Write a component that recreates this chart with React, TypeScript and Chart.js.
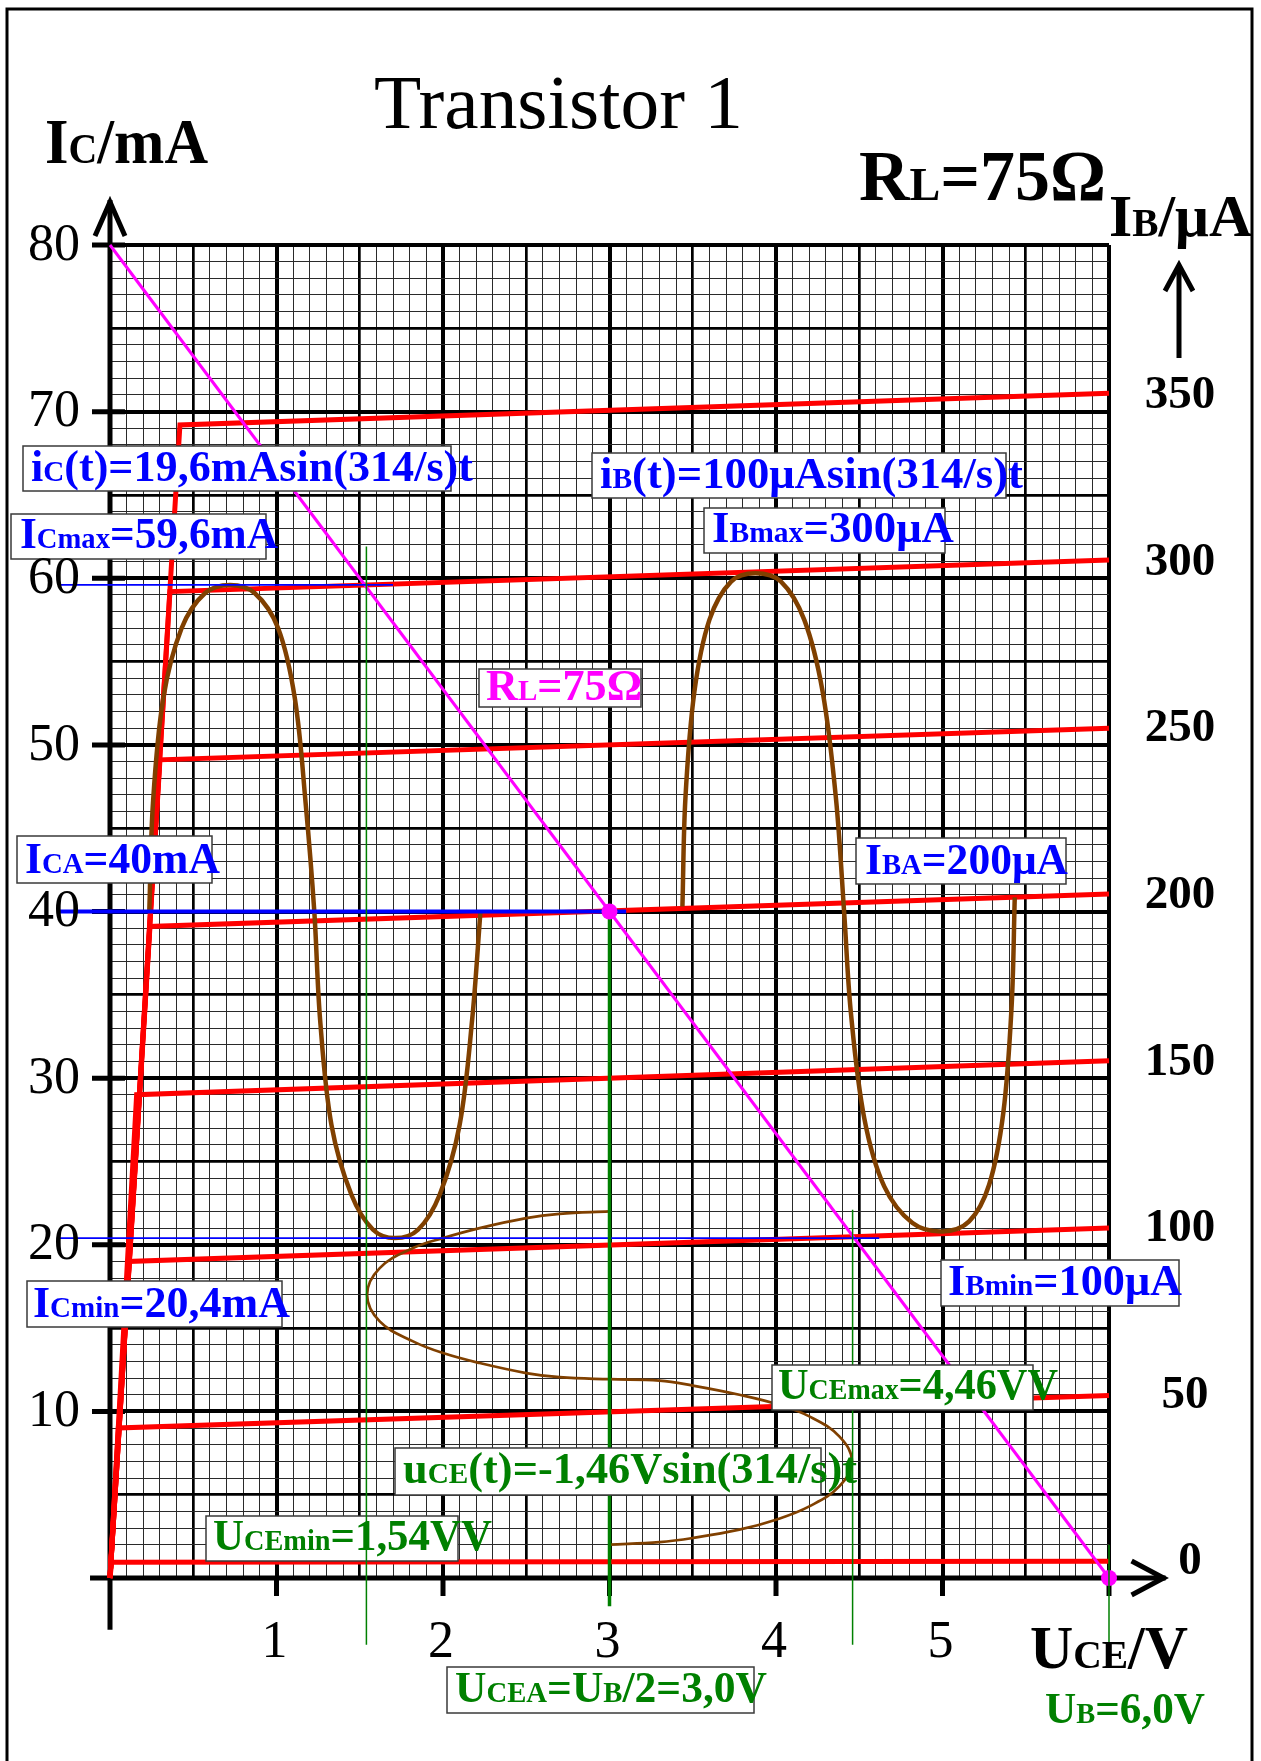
import React, { useEffect, useRef } from "react";
import { Chart, registerables } from "chart.js";

Chart.register(...registerables);

const W = 1261;
const H = 1761;

// ---------------- data ----------------
const U_MIN = 0;
const U_MAX = 6;
const I_MIN = 0;
const I_MAX = 80;
const U_TICKS = [1, 2, 3, 4, 5];
const U_TICK_MARKS = [1, 2, 3, 4, 5, 6];
const I_TICKS = [10, 20, 30, 40, 50, 60, 70, 80];
const IB_TICKS = [0, 50, 100, 150, 200, 250, 300, 350];
const IB_AXIS_MIN = -5;
const IB_AXIS_MAX = 395;

// output characteristics (red): origin -> knee -> end at U = 6 V
const IB_CURVES = [0, 50, 100, 150, 200, 250, 300, 350];
const KNEE_U = [0.01, 0.05, 0.11, 0.16, 0.24, 0.3, 0.36, 0.42];
const KNEE_I = [0.95, 9.0, 19.0, 29.0, 39.1, 49.1, 59.2, 69.2];
const END_U = 6;
const END_I = [1.0, 10.95, 21.0, 31.05, 41.05, 51.0, 61.1, 71.1];

// load line (magenta)
const LOAD_U = [0, 6];
const LOAD_I = [80, 0];
const MARK_U = [3, 6];
const MARK_I = [40, 0];

// iC(t) wave (brown, left)
const IC_WAVE_U = [0.236, 0.258, 0.32, 0.43, 0.57, 0.721, 0.87, 1.01, 1.11, 1.175, 1.227, 1.262, 1.33, 1.45, 1.58, 1.712, 1.85, 1.98, 2.1, 2.175, 2.225];
const IC_WAVE_I = [40.0, 46.5, 52.8, 57.0, 59.1, 59.6, 59.1, 57.0, 52.8, 46.5, 40.0, 33.5, 27.2, 23.0, 20.9, 20.4, 20.9, 23.0, 27.2, 33.5, 40.0];

// iB(t) wave (brown, right)
const IB_WAVE_U = [3.438, 3.456, 3.51, 3.6, 3.73, 3.876, 4.03, 4.17, 4.28, 4.36, 4.409, 4.45, 4.53, 4.65, 4.82, 5.002, 5.16, 5.28, 5.365, 5.415, 5.434];
const IB_WAVE_I = [40.3, 46.8, 53.2, 57.5, 59.8, 60.3, 59.8, 57.5, 53.2, 46.8, 40.0, 33.9, 27.6, 23.5, 21.3, 20.8, 21.4, 23.6, 27.9, 34.3, 40.85];

// uCE(t) wave (brown, bottom)
const UCE_WAVE_U = [3.0, 2.7, 2.5, 2.22, 2.0, 1.82, 1.62, 1.544, 1.62, 1.82, 2.0, 2.22, 2.5, 2.7, 3.0, 3.3, 3.5, 3.78, 4.0, 4.2, 4.38, 4.456, 4.38, 4.2, 4.0, 3.78, 3.5, 3.3, 3.0];
const UCE_WAVE_I = [22.0, 21.85, 21.6, 21.0, 20.4, 19.8, 18.6, 17.0, 15.4, 14.2, 13.5, 12.9, 12.3, 12.05, 11.93, 11.85, 11.55, 11.0, 10.45, 9.7, 8.5, 7.0, 5.5, 4.3, 3.5, 2.9, 2.4, 2.15, 2.0];

// current reference lines (blue)
const IC_LEVELS = [59.6, 40, 20.4];
const IC_LINE_FROM = [-0.31, -0.31, -0.31];
const IC_LINE_TO = [1.7, 3.1, 4.62];

// voltage reference lines (green)
const UCE_LEVELS = [1.54, 3.0, 4.46, 6.0];
const UCE_LINE_TOP = [61.9, 40, 22.1, 2.0];
const UCE_LINE_BOTTOM = [-4.0, -1.7, -4.0, -4.0];

// axis extents (data units)
const Y_AXIS_FROM = -3.1;
const Y_AXIS_TO = 82.7;
const X_AXIS_FROM = -0.12;
const X_AXIS_TO = 6.34;

// ---------------- styles ----------------
const RED = "#ff0000";
const MAGENTA = "#ff00ff";
const BLUE = "#0000ff";
const GREEN = "#008000";
const BROWN = "#804000";
const FONT = '"Liberation Serif", "Times New Roman", serif';

type Seg = [string, number];
interface RichLabel {
  segs: Seg[];
  x: number;
  base: number;
  size: number;
  color: string;
  width: number;
  box?: [number, number, number, number];
  weight?: string;
}

const BS = 45;
const BOX_LABELS: RichLabel[] = [
  { segs: [["i", 0], ["C", 1], ["(t)=19,6mAsin(314/s)t", 0]], x: 31, base: 481, size: BS, color: BLUE, width: 442, box: [23, 446, 451, 491] },
  { segs: [["I", 0], ["Cmax", 1], ["=59,6mA", 0]], x: 20, base: 548, size: BS, color: BLUE, width: 258, box: [11, 514, 266, 559] },
  { segs: [["i", 0], ["B", 1], ["(t)=100μAsin(314/s)t", 0]], x: 600, base: 488, size: BS, color: BLUE, width: 423, box: [592, 453, 1006, 498] },
  { segs: [["I", 0], ["Bmax", 1], ["=300μA", 0]], x: 712, base: 542, size: BS, color: BLUE, width: 242, box: [704, 508, 945, 553] },
  { segs: [["R", 0], ["L", 1], ["=75Ω", 0]], x: 486, base: 700, size: BS, color: MAGENTA, width: 156, box: [479, 669, 641, 707] },
  { segs: [["I", 0], ["CA", 1], ["=40mA", 0]], x: 25, base: 873, size: BS, color: BLUE, width: 195, box: [17, 836, 212, 883] },
  { segs: [["I", 0], ["BA", 1], ["=200μA", 0]], x: 865, base: 874, size: BS, color: BLUE, width: 203, box: [856, 838, 1066, 884] },
  { segs: [["I", 0], ["Cmin", 1], ["=20,4mA", 0]], x: 33, base: 1317, size: BS, color: BLUE, width: 257, box: [27, 1281, 282, 1327] },
  { segs: [["I", 0], ["Bmin", 1], ["=100μA", 0]], x: 948, base: 1295, size: BS, color: BLUE, width: 234, box: [941, 1260, 1179, 1306] },
  { segs: [["U", 0], ["CEmax", 1], ["=4,46VV", 0]], x: 778, base: 1399, size: BS, color: GREEN, width: 280, box: [772, 1365, 1033, 1410] },
  { segs: [["u", 0], ["CE", 1], ["(t)=-1,46Vsin(314/s)t", 0]], x: 403, base: 1483, size: BS, color: GREEN, width: 454, box: [395, 1448, 821, 1495] },
  { segs: [["U", 0], ["CEmin", 1], ["=1,54VV", 0]], x: 213, base: 1550, size: BS, color: GREEN, width: 279, box: [206, 1516, 458, 1561] },
  { segs: [["U", 0], ["CEA", 1], ["=U", 0], ["B", 1], ["/2=3,0V", 0]], x: 455, base: 1702, size: BS, color: GREEN, width: 312, box: [447, 1667, 754, 1713] },
];

const FREE_LABELS: RichLabel[] = [
  { segs: [["Transistor 1", 0]], x: 374, base: 128, size: 77, color: "#000", width: 369, weight: "normal" },
  { segs: [["I", 0], ["C", 1], ["/mA", 0]], x: 45, base: 163, size: 63, color: "#000", width: 163 },
  { segs: [["R", 0], ["L", 1], ["=75Ω", 0]], x: 859, base: 200, size: 71, color: "#000", width: 247 },
  { segs: [["I", 0], ["B", 1], ["/μA", 0]], x: 1109, base: 236, size: 60, color: "#000", width: 143 },
  { segs: [["U", 0], ["CE", 1], ["/V", 0]], x: 1030, base: 1668, size: 61, color: "#000", width: 158 },
  { segs: [["U", 0], ["B", 1], ["=6,0V", 0]], x: 1045, base: 1723, size: 44, color: GREEN, width: 160 },
];

function drawRich(ctx: CanvasRenderingContext2D, L: RichLabel) {
  const weight = L.weight ?? "bold";
  const SMALL = 0.66;
  const fontFor = (s: number) => `${weight} ${s ? L.size * SMALL : L.size}px ${FONT}`;
  let total = 0;
  const widths = L.segs.map(([t, s]) => {
    ctx.font = fontFor(s);
    const w = ctx.measureText(t).width;
    total += w;
    return w;
  });
  if (L.box) {
    const [x0, y0, x1, y1] = L.box;
    ctx.save();
    ctx.fillStyle = "#fff";
    ctx.fillRect(x0, y0, x1 - x0, y1 - y0);
    ctx.strokeStyle = "#3a3a3a";
    ctx.lineWidth = 1.5;
    ctx.strokeRect(x0, y0, x1 - x0, y1 - y0);
    ctx.restore();
  }
  const sx = L.width ? L.width / total : 1;
  ctx.save();
  ctx.translate(L.x, L.base);
  ctx.scale(sx, 1);
  ctx.fillStyle = L.color;
  ctx.textAlign = "left";
  ctx.textBaseline = "alphabetic";
  let cx = 0;
  L.segs.forEach(([t, s], i) => {
    ctx.font = fontFor(s);
    ctx.fillText(t, cx, 0);
    cx += widths[i];
  });
  ctx.restore();
}

function line(ctx: CanvasRenderingContext2D, pts: number[][], width: number, color = "#000") {
  ctx.save();
  ctx.strokeStyle = color;
  ctx.lineWidth = width;
  ctx.lineJoin = "miter";
  ctx.lineCap = "butt";
  ctx.beginPath();
  pts.forEach(([x, y], i) => (i ? ctx.lineTo(x, y) : ctx.moveTo(x, y)));
  ctx.stroke();
  ctx.restore();
}

const BOX_AFTER_INDEX = 3;

const decoPlugin = {
  id: "deco",
  beforeDraw(chart: any) {
    const ctx = chart.ctx as CanvasRenderingContext2D;
    ctx.save();
    ctx.fillStyle = "#fff";
    ctx.fillRect(0, 0, chart.width, chart.height);
    ctx.restore();
  },
  beforeDatasetsDraw(chart: any) {
    const ctx = chart.ctx as CanvasRenderingContext2D;
    const xs = chart.scales.x;
    const ys = chart.scales.y;
    const x0 = xs.getPixelForValue(0);
    const y0 = ys.getPixelForValue(0);
    const yTop = ys.getPixelForValue(Y_AXIS_TO);
    line(ctx, [[x0, ys.getPixelForValue(Y_AXIS_FROM)], [x0, yTop]], 5);
    line(ctx, [[x0 - 15, yTop + 36], [x0, yTop + 2], [x0 + 15, yTop + 36]], 5);
    const xEnd = xs.getPixelForValue(X_AXIS_TO);
    line(ctx, [[xs.getPixelForValue(X_AXIS_FROM), y0], [xEnd, y0]], 5);
    line(ctx, [[xEnd - 34, y0 - 17], [xEnd - 2, y0], [xEnd - 34, y0 + 17]], 5);
    I_TICKS.forEach((v) => {
      const py = ys.getPixelForValue(v);
      line(ctx, [[x0 - 18, py], [x0 + 15, py]], 5);
    });
    U_TICK_MARKS.forEach((v) => {
      const px = xs.getPixelForValue(v);
      line(ctx, [[px, y0], [px, y0 + 18]], 5);
    });
  },
  afterDatasetDraw(chart: any, args: any) {
    if (args.index !== BOX_AFTER_INDEX) return;
    const ctx = chart.ctx as CanvasRenderingContext2D;
    BOX_LABELS.forEach((L) => drawRich(ctx, L));
  },
  afterDraw(chart: any) {
    const ctx = chart.ctx as CanvasRenderingContext2D;
    const xs = chart.scales.x;
    const ys = chart.scales.y;
    const y2 = chart.scales.y2;
    ctx.save();
    ctx.fillStyle = "#000";
    ctx.textBaseline = "middle";
    ctx.font = `normal 52px ${FONT}`;
    ctx.textAlign = "right";
    I_TICKS.forEach((v) => ctx.fillText(String(v), 80, ys.getPixelForValue(v) + 1));
    ctx.textAlign = "center";
    U_TICKS.forEach((v) => ctx.fillText(String(v), xs.getPixelForValue(v) - 2, 1643));
    ctx.font = `bold 47px ${FONT}`;
    IB_TICKS.forEach((v) => {
      const s = String(v);
      ctx.fillText(s, 1180 + (3 - s.length) * 5, y2.getPixelForValue(v) + 1);
    });
    ctx.restore();
    line(ctx, [[1179, 358], [1179, 266]], 5);
    line(ctx, [[1165, 291], [1179, 265], [1193, 291]], 5);
    FREE_LABELS.forEach((L) => drawRich(ctx, L));
    ctx.save();
    ctx.strokeStyle = "#000";
    ctx.lineWidth = 3;
    ctx.strokeRect(7, 9, 1245, H + 20);
    ctx.restore();
  },
};

export default function App() {
  const ref = useRef<HTMLCanvasElement>(null);
  useEffect(() => {
    const canvas = ref.current;
    if (!canvas) return;
    const pts = (us: number[], is: number[]) => us.map((u, i) => ({ x: u, y: is[i] }));
    const datasets: any[] = [];
    const lineDs = (data: any[], color: string, width: number, extra: any = {}) => ({
      data,
      showLine: true,
      borderColor: color,
      backgroundColor: color,
      borderWidth: width,
      pointRadius: 0,
      tension: 0,
      clip: false,
      ...extra,
    });
    // 0: green UCEmin (on top of boxes)
    datasets.push(lineDs(pts([UCE_LEVELS[0], UCE_LEVELS[0]], [UCE_LINE_TOP[0], UCE_LINE_BOTTOM[0]]), GREEN, 1.5));
    // 1: green UB
    datasets.push(lineDs(pts([UCE_LEVELS[3], UCE_LEVELS[3]], [UCE_LINE_TOP[3], UCE_LINE_BOTTOM[3]]), GREEN, 1.5));
    // 2: magenta markers
    datasets.push({ data: pts(MARK_U, MARK_I), showLine: false, pointRadius: 8, pointBackgroundColor: MAGENTA, pointBorderWidth: 0, borderColor: MAGENTA, clip: false });
    // 3: green UCEA
    datasets.push(lineDs(pts([UCE_LEVELS[1], UCE_LEVELS[1]], [UCE_LINE_TOP[1], UCE_LINE_BOTTOM[1]]), GREEN, 3.5));
    // 4: green UCEmax
    datasets.push(lineDs(pts([UCE_LEVELS[2], UCE_LEVELS[2]], [UCE_LINE_TOP[2], UCE_LINE_BOTTOM[2]]), GREEN, 1.5));
    IC_LEVELS.forEach((lv, i) => {
      datasets.push(lineDs(pts([IC_LINE_FROM[i], IC_LINE_TO[i]], [lv, lv]), BLUE, i === 1 ? 4 : 1.8));
    });
    datasets.push(lineDs(pts(LOAD_U, LOAD_I), MAGENTA, 3));
    datasets.push(lineDs(pts(IC_WAVE_U, IC_WAVE_I), BROWN, 4.5, { tension: 0.35 }));
    datasets.push(lineDs(pts(IB_WAVE_U, IB_WAVE_I), BROWN, 4.5, { tension: 0.35 }));
    datasets.push(lineDs(pts(UCE_WAVE_U, UCE_WAVE_I), BROWN, 2.7, { tension: 0.4 }));
    IB_CURVES.forEach((ib, i) => {
      datasets.push(lineDs(pts([0, KNEE_U[i], END_U], [0, KNEE_I[i], END_I[i]]), RED, 5));
    });

    const gridX = (ctx: any) => {
      const r = Math.round(ctx.tick.value * 10);
      return r % 10 === 0 ? 4 : r % 5 === 0 ? 2.7 : 1;
    };
    const gridY = (ctx: any) => {
      const r = Math.round(ctx.tick.value);
      return r % 10 === 0 ? 4 : r % 5 === 0 ? 2.7 : 1;
    };
    const colX = (ctx: any) => (Math.round(ctx.tick.value * 10) % 5 === 0 ? "#000" : "#2a2a2a");
    const colY = (ctx: any) => (Math.round(ctx.tick.value) % 5 === 0 ? "#000" : "#2a2a2a");

    const chart = new Chart(canvas, {
      type: "scatter",
      data: { datasets },
      plugins: [decoPlugin],
      options: {
        responsive: false,
        animation: false,
        devicePixelRatio: 1,
        events: [],
        layout: { padding: { top: 245, left: 0, right: 0, bottom: 0 } },
        plugins: { legend: { display: false }, tooltip: { enabled: false }, title: { display: false } },
        scales: {
          x: {
            type: "linear",
            min: U_MIN,
            max: U_MAX,
            afterFit: (s: any) => {
              s.height = 183;
              s.paddingLeft = 0;
              s.paddingRight = 0;
            },
            ticks: { display: false, stepSize: 0.1, maxTicksLimit: 1000 },
            grid: { drawTicks: false, lineWidth: gridX, color: colX },
            border: { display: false },
          },
          y: {
            type: "linear",
            min: I_MIN,
            max: I_MAX,
            afterFit: (s: any) => {
              s.width = 110;
              s.paddingTop = 0;
              s.paddingBottom = 0;
            },
            ticks: { display: false, stepSize: 1, maxTicksLimit: 1000 },
            grid: { drawTicks: false, lineWidth: gridY, color: colY },
            border: { display: false },
          },
          y2: {
            type: "linear",
            position: "right",
            min: IB_AXIS_MIN,
            max: IB_AXIS_MAX,
            afterFit: (s: any) => {
              s.width = 152;
              s.paddingTop = 0;
              s.paddingBottom = 0;
            },
            ticks: { display: false },
            grid: { display: false },
            border: { display: false },
          },
        },
      } as any,
    });
    return () => chart.destroy();
  }, []);

  return (
    <div style={{ position: "absolute", left: 0, top: 0, width: W, height: H, background: "#fff" }}>
      <canvas ref={ref} width={W} height={H} style={{ width: W, height: H, display: "block" }} />
    </div>
  );
}
